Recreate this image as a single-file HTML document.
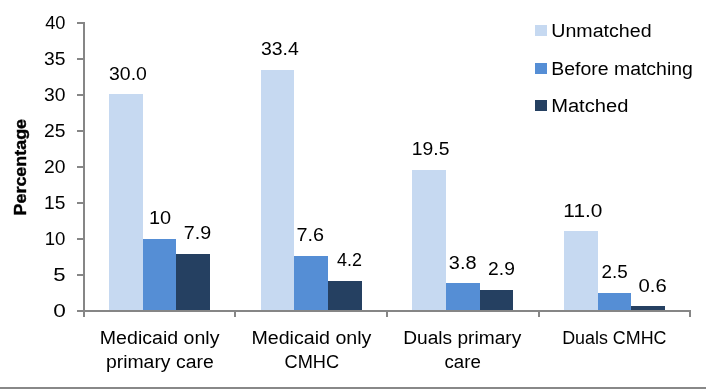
<!DOCTYPE html><html><head><meta charset="utf-8"><style>html,body{margin:0;padding:0;background:#fff;}svg{display:block;will-change:transform;}text{font-family:"Liberation Sans",sans-serif;fill:#000;}</style></head><body>
<svg width="706" height="389" viewBox="0 0 706 389">
<g shape-rendering="crispEdges">
<rect x="109" y="94" width="34" height="217" fill="#C6D9F1"/>
<rect x="143" y="239" width="33" height="72" fill="#558ED5"/>
<rect x="176" y="254" width="34" height="57" fill="#254061"/>
<rect x="261" y="70" width="33" height="241" fill="#C6D9F1"/>
<rect x="294" y="256" width="34" height="55" fill="#558ED5"/>
<rect x="328" y="281" width="34" height="30" fill="#254061"/>
<rect x="412" y="170" width="34" height="141" fill="#C6D9F1"/>
<rect x="446" y="283" width="34" height="28" fill="#558ED5"/>
<rect x="480" y="290" width="33" height="21" fill="#254061"/>
<rect x="564" y="231" width="34" height="80" fill="#C6D9F1"/>
<rect x="598" y="293" width="33" height="18" fill="#558ED5"/>
<rect x="631" y="306" width="34" height="5" fill="#254061"/>
<rect x="83" y="22" width="2" height="295" fill="#868686"/>
<rect x="77" y="22" width="7" height="2" fill="#868686"/>
<rect x="77" y="58" width="7" height="2" fill="#868686"/>
<rect x="77" y="94" width="7" height="2" fill="#868686"/>
<rect x="77" y="130" width="7" height="2" fill="#868686"/>
<rect x="77" y="166" width="7" height="2" fill="#868686"/>
<rect x="77" y="202" width="7" height="2" fill="#868686"/>
<rect x="77" y="238" width="7" height="2" fill="#868686"/>
<rect x="77" y="274" width="7" height="2" fill="#868686"/>
<rect x="77" y="310" width="7" height="2" fill="#868686"/>
<rect x="77" y="310" width="614" height="2" fill="#868686"/>
<rect x="83" y="310" width="2" height="7" fill="#868686"/>
<rect x="234" y="310" width="2" height="7" fill="#868686"/>
<rect x="386" y="310" width="2" height="7" fill="#868686"/>
<rect x="538" y="310" width="2" height="7" fill="#868686"/>
<rect x="689" y="310" width="2" height="7" fill="#868686"/>
<rect x="535" y="25" width="12" height="11" fill="#C6D9F1"/>
<rect x="535" y="63" width="12" height="11" fill="#558ED5"/>
<rect x="535" y="100" width="12" height="11" fill="#254061"/>
<rect x="0" y="387" width="706" height="2" fill="#888888"/>
</g>
<text id="d30" x="109.08" y="80.00" font-size="18" textLength="37.79" lengthAdjust="spacingAndGlyphs">30.0</text>
<text id="d10" x="149.00" y="223.80" font-size="18" textLength="22.19" lengthAdjust="spacingAndGlyphs">10</text>
<text id="d79" x="183.73" y="239.00" font-size="18" textLength="27.37" lengthAdjust="spacingAndGlyphs">7.9</text>
<text id="d334" x="260.92" y="55.00" font-size="18" textLength="37.84" lengthAdjust="spacingAndGlyphs">33.4</text>
<text id="d76" x="296.45" y="241.00" font-size="18" textLength="27.58" lengthAdjust="spacingAndGlyphs">7.6</text>
<text id="d42" x="337.00" y="266.00" font-size="18" textLength="24.96" lengthAdjust="spacingAndGlyphs">4.2</text>
<text id="d195" x="411.88" y="155.00" font-size="18" textLength="37.61" lengthAdjust="spacingAndGlyphs">19.5</text>
<text id="d38" x="448.89" y="268.80" font-size="18" textLength="27.66" lengthAdjust="spacingAndGlyphs">3.8</text>
<text id="d29" x="488.12" y="274.80" font-size="18" textLength="26.74" lengthAdjust="spacingAndGlyphs">2.9</text>
<text id="d110" x="563.36" y="216.70" font-size="18" textLength="39.03" lengthAdjust="spacingAndGlyphs">11.0</text>
<text id="d25" x="601.44" y="277.90" font-size="18" textLength="26.24" lengthAdjust="spacingAndGlyphs">2.5</text>
<text id="d06" x="638.51" y="291.60" font-size="18" textLength="28.16" lengthAdjust="spacingAndGlyphs">0.6</text>
<text id="y40" x="45.20" y="29.00" font-size="18" textLength="20.26" lengthAdjust="spacingAndGlyphs">40</text>
<text id="y35" x="44.09" y="65.00" font-size="18" textLength="21.45" lengthAdjust="spacingAndGlyphs">35</text>
<text id="y30" x="44.09" y="101.00" font-size="18" textLength="21.45" lengthAdjust="spacingAndGlyphs">30</text>
<text id="y25" x="44.09" y="137.00" font-size="18" textLength="21.45" lengthAdjust="spacingAndGlyphs">25</text>
<text id="y20" x="44.09" y="173.00" font-size="18" textLength="21.45" lengthAdjust="spacingAndGlyphs">20</text>
<text id="y15" x="44.13" y="209.00" font-size="18" textLength="21.39" lengthAdjust="spacingAndGlyphs">15</text>
<text id="y10" x="44.77" y="245.00" font-size="18" textLength="20.70" lengthAdjust="spacingAndGlyphs">10</text>
<text id="y5" x="53.37" y="281.00" font-size="18" textLength="12.31" lengthAdjust="spacingAndGlyphs">5</text>
<text id="y0" x="53.15" y="317.00" font-size="18" textLength="12.58" lengthAdjust="spacingAndGlyphs">0</text>
<text id="title" x="26.30" y="215.47" font-size="17" textLength="96.57" lengthAdjust="spacingAndGlyphs" font-weight="bold" stroke="#000" stroke-width="0.4" transform="rotate(-90 26.30 215.47)">Percentage</text>
<text id="c0a" x="99.82" y="343.80" font-size="18" textLength="119.65" lengthAdjust="spacingAndGlyphs">Medicaid only</text>
<text id="c0b" x="105.92" y="367.80" font-size="18" textLength="107.79" lengthAdjust="spacingAndGlyphs">primary care</text>
<text id="c1a" x="251.44" y="343.80" font-size="18" textLength="119.95" lengthAdjust="spacingAndGlyphs">Medicaid only</text>
<text id="c1b" x="284.57" y="367.80" font-size="18" textLength="54.53" lengthAdjust="spacingAndGlyphs">CMHC</text>
<text id="c2a" x="403.28" y="343.80" font-size="18" textLength="117.98" lengthAdjust="spacingAndGlyphs">Duals primary</text>
<text id="c2b" x="444.53" y="367.80" font-size="18" textLength="36.31" lengthAdjust="spacingAndGlyphs">care</text>
<text id="c3a" x="562.20" y="343.80" font-size="18" textLength="104.31" lengthAdjust="spacingAndGlyphs">Duals CMHC</text>
<text id="leg0" x="551.29" y="37.00" font-size="18" textLength="100.27" lengthAdjust="spacingAndGlyphs">Unmatched</text>
<text id="leg1" x="551.23" y="75.00" font-size="18" textLength="141.64" lengthAdjust="spacingAndGlyphs">Before matching</text>
<text id="leg2" x="551.16" y="112.00" font-size="18" textLength="77.22" lengthAdjust="spacingAndGlyphs">Matched</text>
</svg></body></html>
